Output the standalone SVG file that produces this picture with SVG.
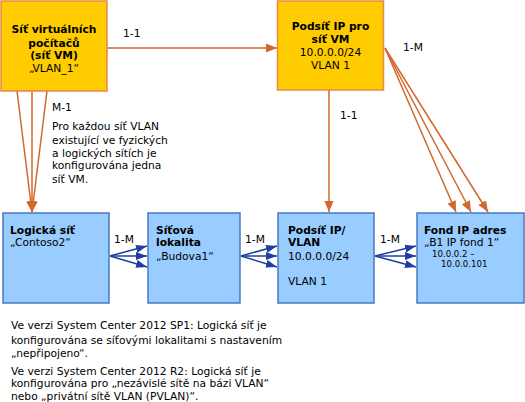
<svg xmlns="http://www.w3.org/2000/svg" width="525" height="402" viewBox="0 0 525 402">
<style>
text{font-family:"DejaVu Sans",Verdana,sans-serif;font-size:10.7px;fill:#000}
.b{font-weight:bold}
.s{font-size:8.6px}
.m{text-anchor:middle}
.gold{fill:#FFCC00;stroke:#E8894A;stroke-width:1.5}
.blue{fill:#99CCFF;stroke:#4A78C2;stroke-width:1.5}
.ol{stroke:#D0692E;stroke-width:1.5;fill:none}
.bl{stroke:#1F3FA0;stroke-width:1.5;fill:none}
</style>
<defs>
<marker id="ao" markerUnits="userSpaceOnUse" markerWidth="12" markerHeight="10" refX="11" refY="5" orient="auto"><path d="M0,0.5 L11,5 L0,9.5 Z" fill="#D0692E"/></marker>
<marker id="ab" markerUnits="userSpaceOnUse" markerWidth="12" markerHeight="10" refX="11" refY="5" orient="auto"><path d="M0,1 L11,5 L0,9 Z" fill="#1F3FA0"/></marker>
</defs>
<g id="connectors">
<line class="ol" x1="107" y1="48" x2="277" y2="48" marker-end="url(#ao)"/>
<line class="ol" x1="17" y1="91" x2="32" y2="212" marker-end="url(#ao)"/>
<line class="ol" x1="32" y1="91" x2="32" y2="212" marker-end="url(#ao)"/>
<line class="ol" x1="47" y1="91" x2="32" y2="212" marker-end="url(#ao)"/>
<line class="ol" x1="329" y1="90" x2="329" y2="212" marker-end="url(#ao)"/>
<line class="ol" x1="385" y1="48" x2="456" y2="212" marker-end="url(#ao)"/>
<line class="ol" x1="385" y1="48" x2="471" y2="212" marker-end="url(#ao)"/>
<line class="ol" x1="385" y1="48" x2="488" y2="212" marker-end="url(#ao)"/>
<line class="bl" x1="110" y1="256" x2="147" y2="246" marker-end="url(#ab)"/>
<line class="bl" x1="110" y1="256" x2="147" y2="256" marker-end="url(#ab)"/>
<line class="bl" x1="110" y1="256" x2="147" y2="267" marker-end="url(#ab)"/>
<line class="bl" x1="241" y1="256" x2="277" y2="246" marker-end="url(#ab)"/>
<line class="bl" x1="241" y1="256" x2="277" y2="256" marker-end="url(#ab)"/>
<line class="bl" x1="241" y1="256" x2="277" y2="267" marker-end="url(#ab)"/>
<line class="bl" x1="375" y1="256" x2="416" y2="246" marker-end="url(#ab)"/>
<line class="bl" x1="375" y1="256" x2="416" y2="256" marker-end="url(#ab)"/>
<line class="bl" x1="375" y1="256" x2="416" y2="267" marker-end="url(#ab)"/>
<text x="123" y="37">1-1</text>
<text x="52" y="111">M-1</text>
<text x="340" y="119">1-1</text>
<text x="403" y="51">1-M</text>
<text x="114" y="243">1-M</text>
<text x="245" y="243">1-M</text>
<text x="380" y="243">1-M</text>
</g>
<g id="vm-network">
<rect class="gold" x="1" y="1" width="106" height="90"/>
<text class="b m" x="54" y="33">Síť virtuálních</text>
<text class="b m" x="54" y="47">počítačů</text>
<text class="b m" x="54" y="59">(síť VM)</text>
<text class="m" x="54" y="72">„VLAN_1“</text>
</g>
<g id="vm-subnet">
<rect class="gold" x="277.5" y="1" width="106" height="89"/>
<text class="b m" x="330.5" y="30">Podsíť IP pro</text>
<text class="b m" x="330.5" y="43">síť VM</text>
<text class="m" x="330.5" y="56">10.0.0.0/24</text>
<text class="m" x="330.5" y="69">VLAN 1</text>
</g>
<g id="note">
<text x="52" y="130">Pro každou síť VLAN</text>
<text x="52" y="144">existující ve fyzických</text>
<text x="52" y="157">a logických sítích je</text>
<text x="52" y="169">konfigurována jedna</text>
<text x="52" y="183">síť VM.</text>
</g>
<g id="logical-network">
<rect class="blue" x="3" y="213" width="106" height="90"/>
<text class="b" x="10" y="234">Logická síť</text>
<text x="10" y="246">„Contoso2“</text>
</g>
<g id="network-site">
<rect class="blue" x="148" y="213" width="92" height="90"/>
<text class="b" x="156" y="234">Síťová</text>
<text class="b" x="156" y="246">lokalita</text>
<text x="156" y="260">„Budova1“</text>
</g>
<g id="ip-subnet-vlan">
<rect class="blue" x="278" y="213" width="96" height="90"/>
<text class="b" x="288" y="234">Podsíť IP/</text>
<text class="b" x="288" y="246">VLAN</text>
<text x="288" y="260">10.0.0.0/24</text>
<text x="288" y="285">VLAN 1</text>
</g>
<g id="ip-pool">
<rect class="blue" x="417" y="213" width="107" height="90"/>
<text class="b" x="424" y="234">Fond IP adres</text>
<text x="424" y="246">„B1 IP fond 1“</text>
<text class="s" x="432" y="257">10.0.0.2 –</text>
<text class="s" x="441" y="267">10.0.0.101</text>
</g>
<g id="footnotes">
<text x="11" y="329">Ve verzi System Center 2012 SP1: Logická síť je</text>
<text x="11" y="344">konfigurována se síťovými lokalitami s nastavením</text>
<text x="11" y="357">„nepřipojeno“.</text>
<text x="11" y="375">Ve verzi System Center 2012 R2: Logická síť je</text>
<text x="11" y="387">konfigurována pro „nezávislé sítě na bázi VLAN“</text>
<text x="11" y="400">nebo „privátní sítě VLAN (PVLAN)“.</text>
</g>
</svg>
